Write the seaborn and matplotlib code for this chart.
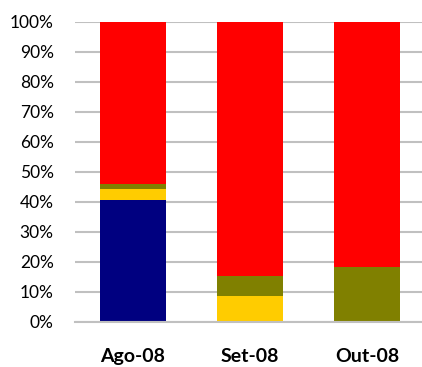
import matplotlib
matplotlib.use("Agg")
import matplotlib.pyplot as plt
import seaborn as sns
import numpy as np
import pandas as pd

months = ["Ago-08", "Set-08", "Out-08"]
navy_share = [40.7, 0.0, 0.0]
gold_share = [3.5, 8.8, 0.0]
olive_share = [1.8, 6.6, 18.3]
red_share = [54.0, 84.6, 81.7]

series = [
    ("navy", navy_share, "#000080"),
    ("gold", gold_share, "#FFCC00"),
    ("olive", olive_share, "#808000"),
    ("red", red_share, "#FF0000"),
]

sns.set_theme(style="white")
plt.rcParams["font.family"] = ["Lato", "DejaVu Sans"]

fig = plt.figure(figsize=(4.22, 3.67), dpi=100)
ax = fig.add_axes([74.5 / 422, 45 / 367, 351 / 422, 300 / 367])

# stacked columns: draw cumulative totals from the top segment down
cum = np.cumsum([s[1] for s in series], axis=0)
for (name, vals, color), top in reversed(list(zip(series, cum))):
    df = pd.DataFrame({"month": months, "value": top})
    sns.barplot(data=df, x="month", y="value", color=color, width=0.56,
                saturation=1, linewidth=0, edgecolor=color, ax=ax, zorder=2)

ax.set_ylim(0, 100)
ax.set_xlim(-0.5, 2.5)
ax.set_yticks(np.arange(0, 101, 10))
ax.set_yticklabels([f"{v}%" for v in range(0, 101, 10)])
ax.yaxis.grid(True, color="#c0c0c0", linewidth=1.5, zorder=0)
ax.set_axisbelow(True)
for side in ["left", "right", "top"]:
    ax.spines[side].set_visible(False)
ax.spines["bottom"].set_color("#c0c0c0")
ax.spines["bottom"].set_linewidth(1.5)
ax.tick_params(axis="y", length=0, pad=15, labelsize=12.5, labelcolor="black")
ax.tick_params(axis="x", length=0, pad=19, labelsize=14, labelcolor="black")
for lbl in ax.get_xticklabels():
    lbl.set_fontweight("bold")
ax.set_xlabel("")
ax.set_ylabel("")

fig.savefig("out.png", dpi=100)
